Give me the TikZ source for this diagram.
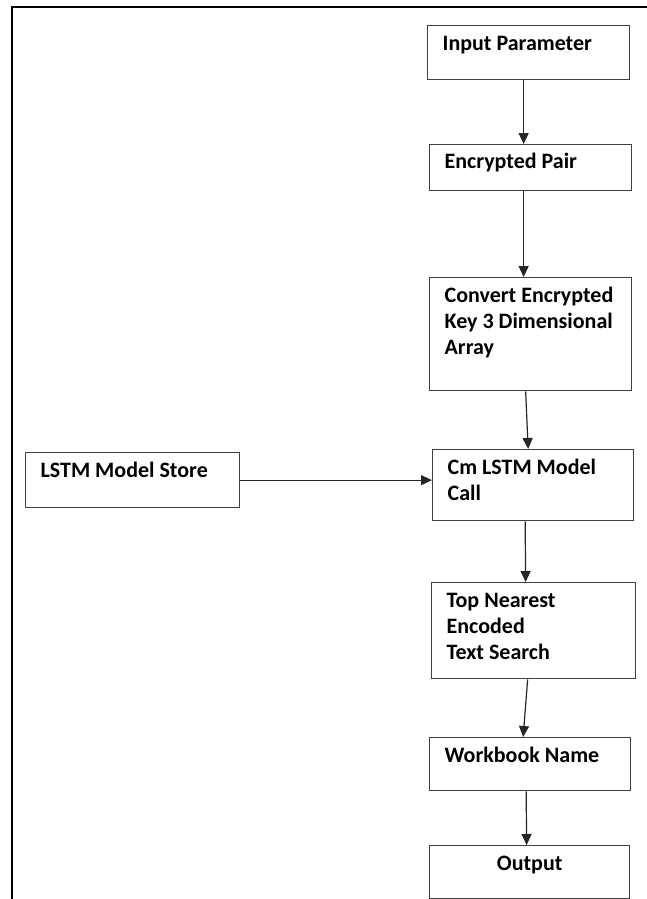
\documentclass[tikz,border=0pt]{standalone}
\usepackage{fontspec}
\setmainfont{Carlito}
\usetikzlibrary{arrows.meta,positioning}

\begin{document}
\begin{tikzpicture}[
    x=1pt, y=-1pt,
    box/.style={rectangle, draw=black!75, line width=1.3pt, inner xsep=15pt, inner ysep=0pt, anchor=north west, align=left, font=\fontsize{22}{26}\selectfont\bfseries, execute at begin node={\spaceskip=0.226em\relax}},
    arrow/.style={-{Triangle[length=11pt,width=10pt]}, line width=1.2pt, draw=black!85}
]
    \useasboundingbox (0,0) rectangle (647,899);
    % page frame
    \draw[line width=2.5pt] (647,7) -- (12,7) -- (12,899);

    \node[box, text width=172pt, text height=25pt, text depth=29pt] (input) at (427,25) {Input Parameter};
    \node[box, text width=172pt, text height=24pt, text depth=22pt] (pair) at (429,144) {Encrypted Pair};
    \node[box, text width=172pt, text height=25pt, text depth=88pt] (convert) at (429,277) {Convert Encrypted\\Key 3 Dimensional\\Array};
    \node[box, text width=171pt, text height=25pt, text depth=46pt] (call) at (432,449) {Cm LSTM Model\\Call};
    \node[box, text width=184pt, text height=25pt, text depth=30pt] (store) at (25,452) {LSTM Model Store};
    \node[box, text width=174pt, text height=25pt, text depth=71pt] (search) at (431,582) {Top Nearest\\Encoded\\Text Search};
    \node[box, text width=171pt, text height=25pt, text depth=28pt] (workbook) at (429,737) {Workbook Name};
    \node[box, text width=170pt, text height=25pt, text depth=28pt, align=center] (output) at (429,845) {Output};

    % arrows sit a little left of the box centres
    \draw[arrow] ([xshift=-5pt]input.south) -- ([xshift=-7pt]pair.north);
    \draw[arrow] ([xshift=-7pt]pair.south) -- ([xshift=-7pt]convert.north);
    \draw[arrow] ([xshift=-5pt]convert.south) -- ([xshift=-5pt]call.north);
    \draw[arrow] (store.east) -- (store.east -| call.west);
    \draw[arrow] ([xshift=-8pt]call.south) -- ([xshift=-8pt]search.north);
    \draw[arrow] ([xshift=-6pt]search.south) -- ([xshift=-7pt]workbook.north);
    \draw[arrow] ([xshift=-4pt]workbook.south) -- ([xshift=-3pt]output.north);
\end{tikzpicture}
\end{document}
